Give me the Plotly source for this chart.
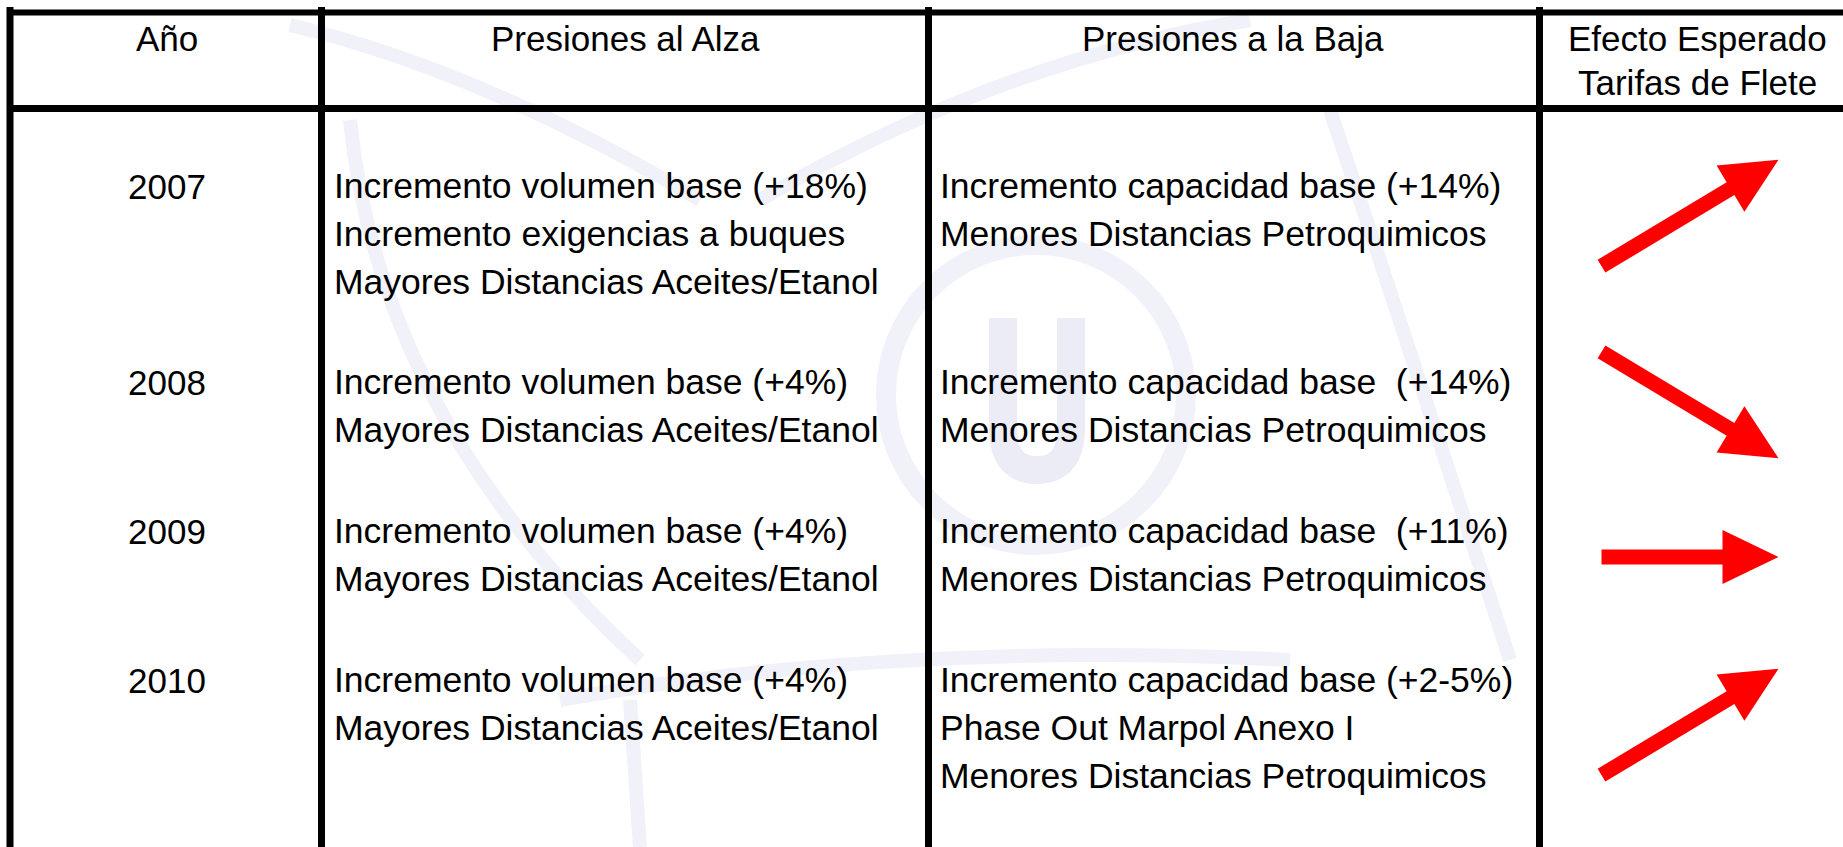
import math
import plotly.graph_objects as go

# ---- contenido de la tabla ----
headers = [
    ["Año"],
    ["Presiones al Alza"],
    ["Presiones a la Baja"],
    ["Efecto Esperado", "Tarifas de Flete"],
]

years = ["2007", "2008", "2009", "2010"]

presiones_alza = [
    ["Incremento volumen base (+18%)",
     "Incremento exigencias a buques",
     "Mayores Distancias Aceites/Etanol"],
    ["Incremento volumen base (+4%)",
     "Mayores Distancias Aceites/Etanol"],
    ["Incremento volumen base (+4%)",
     "Mayores Distancias Aceites/Etanol"],
    ["Incremento volumen base (+4%)",
     "Mayores Distancias Aceites/Etanol"],
]

presiones_baja = [
    ["Incremento capacidad base (+14%)",
     "Menores Distancias Petroquimicos"],
    ["Incremento capacidad base \u00a0(+14%)",
     "Menores Distancias Petroquimicos"],
    ["Incremento capacidad base \u00a0(+11%)",
     "Menores Distancias Petroquimicos"],
    ["Incremento capacidad base (+2-5%)",
     "Phase Out Marpol Anexo I",
     "Menores Distancias Petroquimicos"],
]

# +1 sube, -1 baja, 0 estable
efecto_tarifas = [1, -1, 0, 1]

# ---- layout (pixels of the slide) ----
W, H = 1843, 847
FONT = "Arial, 'Liberation Sans', sans-serif"
V_LINES = [10, 321.5, 928.5, 1539.5]
H_LINES = [12.5, 108.5]
HEADER_X = [167, 625, 1233, 1697]
HEADER_Y = 38
HEADER_GAP = 44
YEAR_X = 167
TEXT_X = [332, 938]
ROW_Y = [186, 382, 531, 680]
LINE_GAP = 48
ARROW_CX = 1690
ARROW_HALF_DX = 88.5
ARROW_Y = [213, 405, 557, 722]
ARROW_ANGLE = 31
WM = "#F1F1F9"

fig = go.Figure()

# arrows
for i, trend in enumerate(efecto_tarifas):
    ang = math.radians(ARROW_ANGLE) * trend
    dy = ARROW_HALF_DX * math.tan(ang)
    tail = (ARROW_CX - ARROW_HALF_DX, ARROW_Y[i] + dy)
    tip = (ARROW_CX + ARROW_HALF_DX, ARROW_Y[i] - dy)
    L = math.hypot(tip[0] - tail[0], tip[1] - tail[1])
    d = ((tip[0] - tail[0]) / L, (tip[1] - tail[1]) / L)
    n = (-d[1], d[0])
    sw, hw, hl = 7.5, 27, 56
    neck = (tip[0] - d[0] * hl, tip[1] - d[1] * hl)
    pts = [
        (tail[0] + n[0] * sw, tail[1] + n[1] * sw),
        (neck[0] + n[0] * sw, neck[1] + n[1] * sw),
        (neck[0] + n[0] * hw, neck[1] + n[1] * hw),
        tip,
        (neck[0] - n[0] * hw, neck[1] - n[1] * hw),
        (neck[0] - n[0] * sw, neck[1] - n[1] * sw),
        (tail[0] - n[0] * sw, tail[1] - n[1] * sw),
    ]
    pts.append(pts[0])
    fig.add_trace(go.Scatter(
        x=[p[0] for p in pts], y=[p[1] for p in pts],
        mode="lines", fill="toself", fillcolor="#FF0000",
        line=dict(width=0, color="#FF0000"), hoverinfo="skip", showlegend=False))

shapes = []
# faint logo watermark
shapes.append(dict(type="circle", x0=886, x1=1186, y0=245, y1=545,
                   line=dict(color=WM, width=20), layer="below"))
shapes.append(dict(type="path",
                   path="M 1003 318 L 1003 428 Q 1003 470 1037 470 Q 1071 470 1071 428 L 1071 318",
                   line=dict(color="#ECECF6", width=28), layer="below"))
for p in ["M 290 25 Q 480 70 700 200",
          "M 350 120 Q 380 420 640 660",
          "M 1330 110 Q 1420 380 1510 660",
          "M 560 700 Q 900 640 1290 660",
          "M 630 700 L 640 847",
          "M 1250 20 Q 1000 60 760 200"]:
    shapes.append(dict(type="path", path=p, line=dict(color=WM, width=14), layer="below"))

# table lines
for x in V_LINES:
    shapes.append(dict(type="line", x0=x, x1=x, y0=7, y1=H,
                       line=dict(color="black", width=7)))
for y in H_LINES:
    shapes.append(dict(type="line", x0=7, x1=W, y0=y, y1=y,
                       line=dict(color="black", width=7 if y > 50 else 6)))

annotations = []
for cx, lines in zip(HEADER_X, headers):
    for k, t in enumerate(lines):
        annotations.append(dict(x=cx, y=HEADER_Y + k * HEADER_GAP, text=t,
                                xanchor="center", yanchor="middle", showarrow=False,
                                font=dict(family=FONT, size=35, color="black")))

for i, yr in enumerate(years):
    annotations.append(dict(x=YEAR_X, y=ROW_Y[i], text=yr, xanchor="center",
                            yanchor="middle", showarrow=False,
                            font=dict(family=FONT, size=35, color="black")))
    for col, cell in enumerate([presiones_alza[i], presiones_baja[i]]):
        for k, t in enumerate(cell):
            annotations.append(dict(x=TEXT_X[col], y=ROW_Y[i] + k * LINE_GAP, text=t,
                                    xanchor="left", yanchor="middle", showarrow=False,
                                    font=dict(family=FONT, size=35.5, color="black")))

fig.update_layout(
    width=W, height=H,
    margin=dict(l=0, r=0, t=0, b=0),
    paper_bgcolor="white", plot_bgcolor="white",
    xaxis=dict(range=[0, W], visible=False, fixedrange=True),
    yaxis=dict(range=[H, 0], visible=False, fixedrange=True),
    shapes=shapes,
    annotations=annotations,
)

fig.write_html("out.html", config={"displayModeBar": False},
               post_script="document.body.style.margin='0';")
